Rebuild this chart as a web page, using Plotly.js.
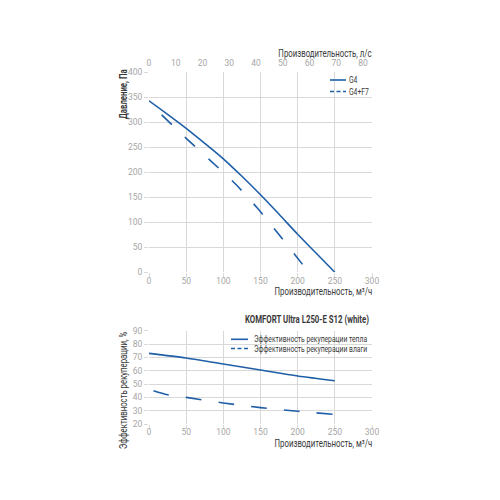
<!DOCTYPE html>
<html>
<head>
<meta charset="utf-8">
<script src="https://cdn.plot.ly/plotly-3.0.1.min.js"></script>
<style>html,body{margin:0;padding:0;background:#fff;}#chart{width:500px;height:500px;}</style>
</head>
<body>
<div id="chart"></div>
<script>
// Top chart: pressure vs airflow
var flowG4 = [0, 25, 50, 75, 100, 125, 150, 175, 200, 225, 250];
var pressG4 = [343, 316, 288, 258, 227, 192, 155, 116, 76, 38, 0];
var flowG4F7 = [17, 50, 83, 116, 146, 174, 200, 215];
var pressG4F7 = [315, 268, 223, 177, 128, 77, 28, 0];
// Bottom chart: recovery efficiency vs airflow
var flowHeat = [0, 50, 100, 150, 200, 250];
var effHeat = [73, 69.5, 65, 60.5, 56, 52.5];
var flowMoist = [6, 25, 50, 100, 150, 200, 250];
var effMoist = [45, 42, 40, 35.8, 32.3, 29.6, 27.2];

var nameG4 = 'G4';
var nameG4F7 = 'G4+F7';
var nameHeat = 'Эффективность рекуперации тепла';
var nameMoist = 'Эффективность рекуперации влаги';
var chartTitle = 'KOMFORT Ultra L250-E S12 (white)';
var titleLps = 'Производительность, л/с';
var titleM3h = 'Производительность, м³/ч';
var titlePress = 'Давление, Па';
var titleEff = 'Эффективность рекуперации, %';

var blue = '#1f5fa8';
var grid = '#d9d9d9';
var tickCol = '#a6a6a6';
var titleCol = '#3a3a3a';
var FONT = 'Roboto, sans-serif';

var traces = [
  {x: flowG4, y: pressG4, xaxis: 'x', yaxis: 'y', mode: 'lines', name: nameG4,
   line: {color: blue, width: 1.6, shape: 'spline', smoothing: 0.8}},
  {x: flowG4F7, y: pressG4F7, xaxis: 'x', yaxis: 'y', mode: 'lines', name: nameG4F7,
   line: {color: blue, width: 1.6, dash: '14px,18px', shape: 'spline', smoothing: 0.8}},
  // empty trace so the secondary (l/s) axis is drawn
  {x: [0], y: [null], xaxis: 'x2', yaxis: 'y', mode: 'lines', hoverinfo: 'skip', showlegend: false},
  {x: flowHeat, y: effHeat, xaxis: 'x3', yaxis: 'y2', mode: 'lines', name: nameHeat,
   line: {color: blue, width: 1.6, shape: 'spline', smoothing: 0.8}},
  {x: flowMoist, y: effMoist, xaxis: 'x3', yaxis: 'y2', mode: 'lines', name: nameMoist,
   line: {color: blue, width: 1.6, dash: '16px,17px', shape: 'spline', smoothing: 0.8}}
];

function P(px){ return px/500; }
function Q(py){ return 1 - py/500; }

var baseAxis = {
  showgrid: true, gridcolor: grid, gridwidth: 1, zeroline: false, showline: false,
  ticks: 'outside', ticklen: 4, tickcolor: grid,
  tickfont: {family: FONT, size: 8.5, color: tickCol}, fixedrange: true
};
function ax(extra){ return Object.assign({}, baseAxis, extra); }

function ann(text, x, y, xa, ya, size, angle){
  var a = {text: text, xref: 'paper', yref: 'paper', x: P(x), y: Q(y), xanchor: xa, yanchor: ya,
           showarrow: false, font: {size: size, color: titleCol}};
  if (angle) a.textangle = angle;
  return a;
}

var layout = {
  width: 500, height: 500,
  margin: {l: 0, r: 0, t: 0, b: 0},
  paper_bgcolor: '#fff', plot_bgcolor: '#fff',
  showlegend: false,
  font: {family: FONT, color: titleCol},
  xaxis: ax({domain: [P(149), P(372)], anchor: 'y', range: [0, 300], dtick: 50, tick0: 0, ticklabelstandoff: -4}),
  yaxis: ax({domain: [Q(272.3), Q(72.3)], anchor: 'x', range: [0, 400], dtick: 50, tick0: 0}),
  xaxis2: ax({overlaying: 'x', side: 'top', anchor: 'y', range: [0, 300/3.6], dtick: 10, tick0: 0,
              showgrid: false, ticks: '', ticklabelstandoff: 4}),
  xaxis3: ax({domain: [P(149), P(372)], anchor: 'y2', range: [0, 300], dtick: 50, tick0: 0, ticklabelstandoff: -4}),
  yaxis2: ax({domain: [Q(424), Q(330.7)], anchor: 'x3', range: [20, 90], dtick: 10, tick0: 20}),
  annotations: [
    ann(titleLps, 374, 54, 'right', 'middle', 10),
    ann(titleM3h, 374, 291, 'right', 'middle', 10),
    ann(titleM3h, 374, 443, 'right', 'middle', 10),
    ann('<b>' + titlePress + '</b>', 124, 67, 'center', 'top', 10, -90),
    ann(titleEff, 123, 330, 'center', 'top', 10, -90),
    ann('<b>' + chartTitle + '</b>', 371, 320, 'right', 'middle', 10),
    ann(nameG4, 347, 80, 'left', 'middle', 9),
    ann(nameG4F7, 347, 91.5, 'left', 'middle', 9),
    ann(nameHeat, 252, 339.3, 'left', 'middle', 9),
    ann(nameMoist, 252, 348.5, 'left', 'middle', 9)
  ],
  shapes: [
    {type: 'line', xref: 'paper', yref: 'paper', x0: P(330), x1: P(346), y0: Q(80), y1: Q(80),
     line: {color: blue, width: 1.6}},
    {type: 'line', xref: 'paper', yref: 'paper', x0: P(330), x1: P(346), y0: Q(91.5), y1: Q(91.5),
     line: {color: blue, width: 1.6, dash: '4px,2.5px'}},
    {type: 'line', xref: 'paper', yref: 'paper', x0: P(231), x1: P(248), y0: Q(339.3), y1: Q(339.3),
     line: {color: blue, width: 1.6}},
    {type: 'line', xref: 'paper', yref: 'paper', x0: P(231), x1: P(248), y0: Q(348.5), y1: Q(348.5),
     line: {color: blue, width: 1.6, dash: '4px,2.5px'}}
  ]
};

// The reference uses a condensed typeface; compress annotation text horizontally
// (it stays real text) while keeping each annotation's anchored edge in place.
function condense(gd){
  var fl = gd._fullLayout;
  gd.querySelectorAll('g.annotation').forEach(function(g){
    var idx = +g.getAttribute('data-index');
    var a = fl.annotations[idx];
    var t = g.querySelector('text.annotation-text');
    if (!a || !t) return;
    var len = t.getComputedTextLength();
    if (!(len > 0)) return;
    var f = (a.font.size < 10) ? 0.75 : 0.78;
    var nl = len * f, d = (len - nl) / 2, shift = 0;
    if (a.textangle) {
      shift = a.yanchor === 'top' ? d : (a.yanchor === 'bottom' ? -d : 0);
    } else {
      shift = a.xanchor === 'left' ? -d : (a.xanchor === 'right' ? d : 0);
    }
    t.setAttribute('textLength', nl.toFixed(2));
    t.setAttribute('lengthAdjust', 'spacingAndGlyphs');
    var x0 = parseFloat(t.getAttribute('x')) || 0;
    t.setAttribute('x', (x0 + shift).toFixed(2));
    t.querySelectorAll('tspan.line').forEach(function(s){
      var sx = parseFloat(s.getAttribute('x')) || 0;
      s.setAttribute('x', (sx + shift).toFixed(2));
    });
  });
}

Plotly.newPlot('chart', traces, layout, {displayModeBar: false, staticPlot: true}).then(function(gd){
  condense(gd);
});
</script>
</body>
</html>
